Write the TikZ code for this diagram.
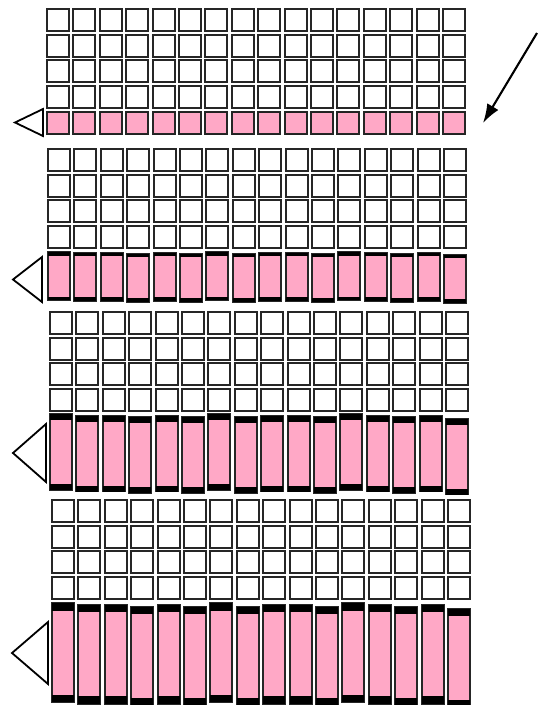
\documentclass[tikz,border=0pt]{standalone}
\usepackage{tikz}
\usetikzlibrary{arrows.meta,calc}
\definecolor{barpink}{HTML}{FFA8C6}

\begin{document}
\begin{tikzpicture}[x=1pt,y=-1pt,
  cell/.style={draw=black!85,line width=1.9pt,fill=white},
  pinkbar/.style={draw=black!85,line width=1.9pt,fill=barpink},
  barcap/.style={fill=black},
  pointer/.style={draw=black,line width=1.8pt,fill=white,line join=miter}]
  \useasboundingbox (0,0) rectangle (538,705);

  \foreach \xo/\yo/\bt/\bb/\cp/\tx/\tr/\tc/\th in
    {47/9/112/134/0/15/43/122.5/13.5,
     48/149/252/300/3.5/13/42/279.5/22.5,
     50/312/414/490/6/13/46/453/29,
     52/500/603/702/7.5/12/48/653/31}{
    \foreach \c in {0,...,15}{
      \foreach \r in {0,...,3}
        \draw[cell] ({\xo+26.4*\c},{\yo+25.6*\r}) rectangle ++(22,22);
    }
    \foreach \c/\j in {0/0,1/1,2/1,3/2,4/1,5/2,6/0,7/2,8/1,9/1,
                       10/2,11/0,12/1,13/2,14/1,15/3}{
      \pgfmathsetmacro\dy{\j*\cp/4}
      \draw[pinkbar] ({\xo+26.4*\c},{\bt+\dy}) rectangle ++(22,{\bb-\bt});
      \fill[barcap] ({\xo+26.4*\c},{\bt+\dy}) rectangle ++(22,\cp);
      \fill[barcap] ({\xo+26.4*\c},{\bb+\dy}) rectangle ++(22,-\cp);
    }
    \draw[pointer] (\tx,\tc) -- (\tr,{\tc-\th}) -- (\tr,{\tc+\th}) -- cycle;
  }

  \coordinate (tail) at (537,33);
  \coordinate (head) at (483,123);
  \draw[-{Latex[length=19pt,width=13pt]},line width=2.1pt] (tail) -- (head);
\end{tikzpicture}
\end{document}
